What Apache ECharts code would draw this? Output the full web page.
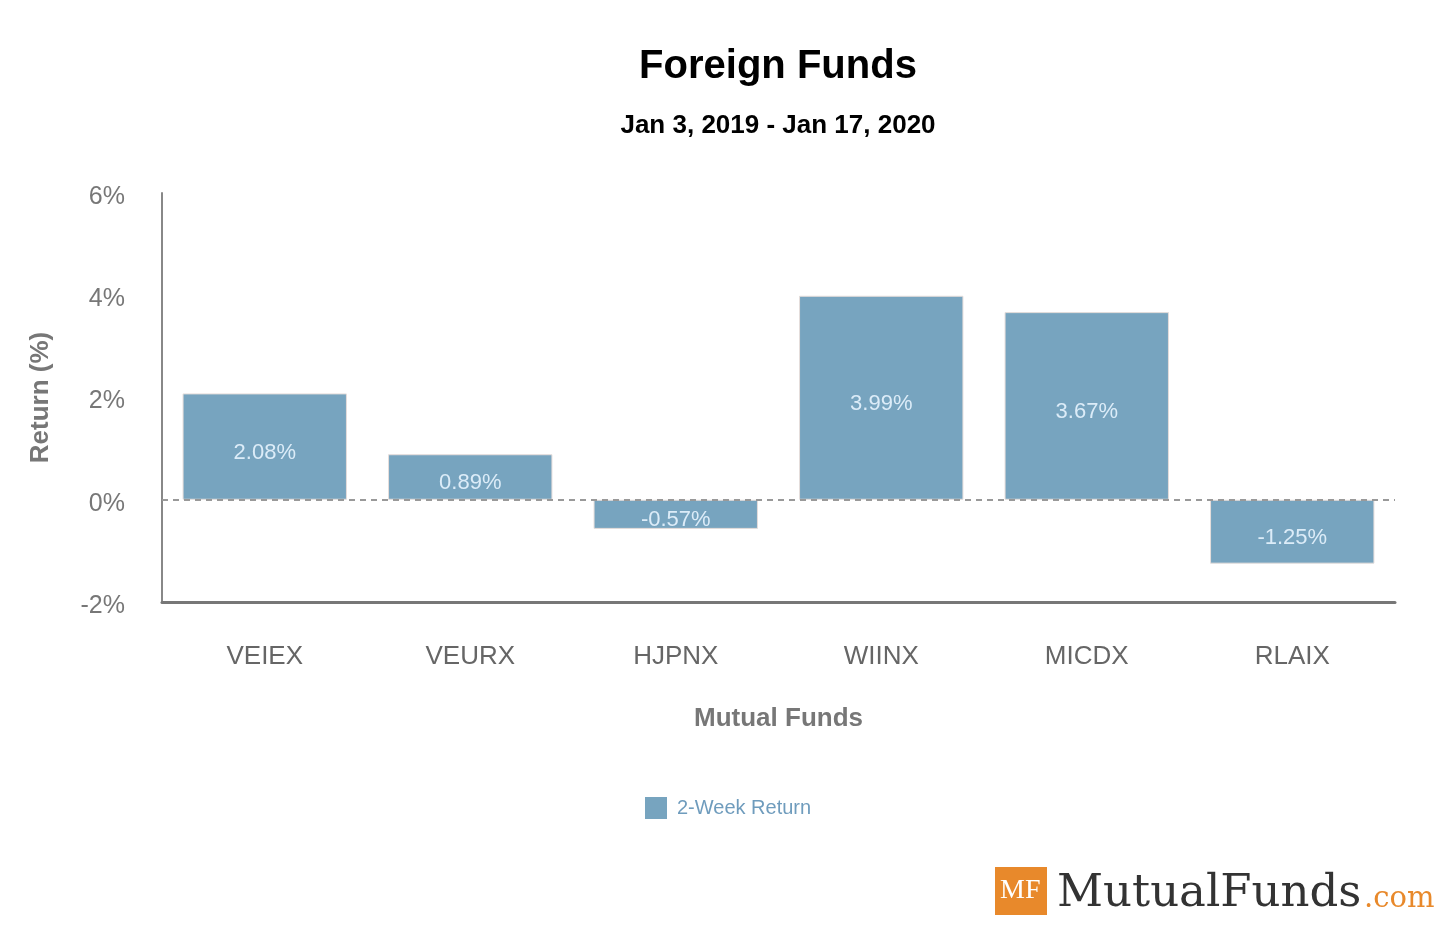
<!DOCTYPE html>
<html>
<head>
<meta charset="utf-8">
<title>Foreign Funds</title>
<script src="https://cdn.jsdelivr.net/npm/echarts@6/dist/echarts.min.js"></script>
<style>
	html, body { margin: 0; padding: 0; background: #fff; }
	#chart { width: 1445px; height: 925px; }
</style>
</head>
<body>
<div id="chart"></div>
<script>
// 基金代码
var funds = ['VEIEX', 'VEURX', 'HJPNX', 'WIINX', 'MICDX', 'RLAIX'];
// 两周回报 (%)
var returns = [2.08, 0.89, -0.57, 3.99, 3.67, -1.25];
var yTicks = { min: -2, max: 6, step: 2 };

var myChart = echarts.init(document.getElementById('chart'));
var font = 'Liberation Sans, Arial, sans-serif';

var option = {
	textStyle : { fontFamily : font },
	title : [ {
		text : 'Foreign Funds',
		left : 773,
		top : 42,
		textAlign : 'center',
		textStyle : { fontSize : 40, fontWeight : 'bold', color : '#000', fontFamily : font }
	}, {
		text : 'Jan 3, 2019 - Jan 17, 2020',
		left : 773,
		top : 108,
		textAlign : 'center',
		textStyle : { fontSize : 26, fontWeight : 'bold', color : '#000', fontFamily : font }
	} ],
	legend : {
		left : 640,
		top : 792,
		itemWidth : 22,
		itemHeight : 22,
		itemGap : 9,
		icon : 'rect',
		itemStyle : { borderWidth : 0 },
		textStyle : { fontSize : 20, color : '#6f9cbd', fontFamily : font, padding : [ 0, 0, 0, 5 ] },
		data : [ '2-Week Return' ]
	},
	grid : {
		left : 162,
		right : 50,
		top : 193,
		bottom : 323
	},
	xAxis : {
		type : 'category',
		data : funds,
		name : 'Mutual Funds',
		nameLocation : 'middle',
		nameGap : 104,
		nameTextStyle : { fontSize : 26, fontWeight : 'bold', color : '#777', fontFamily : font },
		axisLine : { onZero : false, lineStyle : { color : '#777', width : 3 } },
		axisTick : { show : false },
		axisLabel : { fontSize : 26, color : '#666', margin : 42, fontFamily : font }
	},
	yAxis : {
		type : 'value',
		min : yTicks.min,
		max : yTicks.max,
		interval : yTicks.step,
		name : 'Return (%)',
		nameLocation : 'middle',
		nameGap : 108,
		nameTextStyle : { fontSize : 26, fontWeight : 'bold', color : '#777', fontFamily : font },
		axisLine : { show : true, lineStyle : { color : '#888', width : 2 } },
		axisTick : { show : false },
		splitLine : { show : false },
		axisLabel : {
			margin : 37,
			formatter : '{a|{value}%}',
			rich : {
				a : {
					fontSize : 25,
					color : '#777',
					fontFamily : font,
					padding : [ 8, 0, 0, 0 ]
				}
			}
		}
	},
	series : [ {
		name : '2-Week Return',
		type : 'bar',
		data : returns,
		barCategoryGap : '20%',
		itemStyle : {
			color : '#77a4bf',
			borderColor : '#e6dedb',
			borderWidth : 1
		},
		label : {
			show : true,
			position : 'inside',
			offset : [ 0, 6 ],
			fontSize : 22,
			color : '#dcecf8',
			fontFamily : font,
			formatter : function(p) { return p.value.toFixed(2) + '%'; }
		},
		markLine : {
			silent : true,
			symbol : 'none',
			label : { show : false },
			lineStyle : { type : [ 6, 5 ], color : '#999', width : 2 },
			data : [ { yAxis : 0 } ]
		}
	} ],
	graphic : [ {
		type : 'rect',
		left : 995,
		top : 867,
		shape : { width : 52, height : 48 },
		style : { fill : '#e8892b' }
	}, {
		type : 'text',
		left : 1000,
		top : 877,
		style : { text : 'MF', fill : '#fff', font : '28px "Liberation Serif", serif' }
	}, {
		type : 'text',
		left : 1057,
		top : 872,
		style : { text : 'MutualFunds', fill : '#333', font : '45px "DejaVu Serif", serif' }
	}, {
		type : 'text',
		left : 1364,
		top : 885,
		style : { text : '.com', fill : '#e8892b', font : '29px "DejaVu Serif", serif' }
	} ]
};

myChart.setOption(option);
</script>
</body>
</html>
